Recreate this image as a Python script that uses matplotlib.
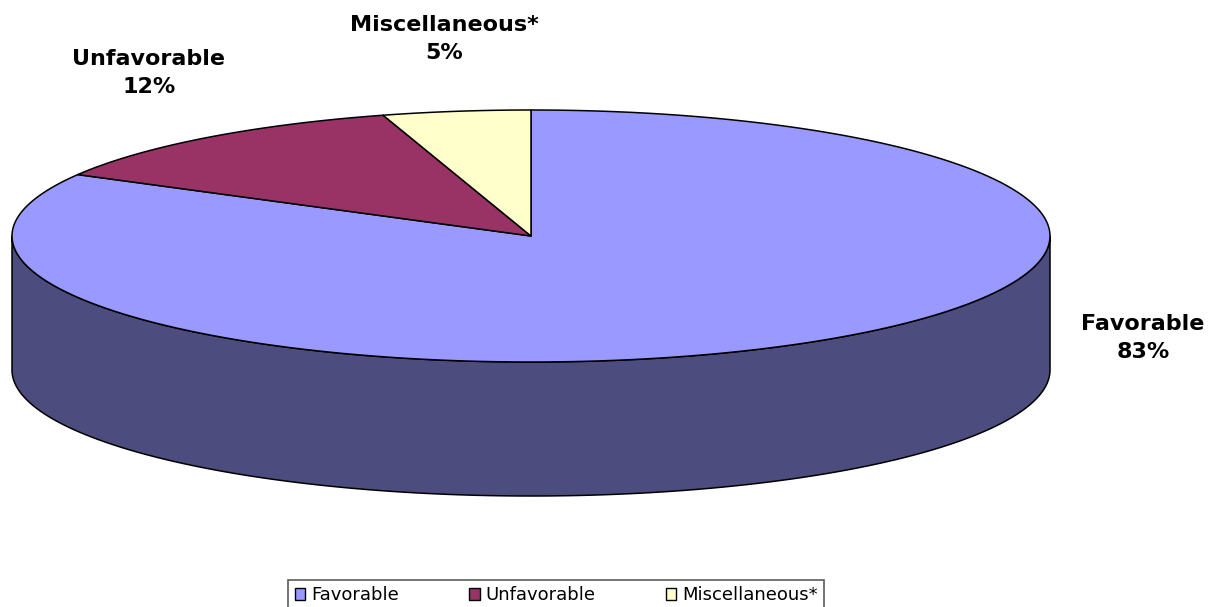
import numpy as np
import matplotlib.pyplot as plt
from matplotlib.patches import Polygon, Patch

categories = ['Favorable', 'Unfavorable', 'Miscellaneous*']
values = [83.1, 12.3, 4.6]
pct_labels = [f'{round(v)}%' for v in values]
top_colors = ['#9999FF', '#993366', '#FFFFCC']
side_colors = ['#4C4C7E', '#4D1A33', '#808066']

W, H = 1228, 607
fig = plt.figure(figsize=(W / 100, H / 100), dpi=100)
ax = fig.add_axes([0, 0, 1, 1])
ax.set_xlim(0, W)
ax.set_ylim(H, 0)
ax.axis('off')

# pie geometry (pixel space)
cx, cy, a, b, depth = 531, 236, 519, 126, 134


def pts(t, dy=0.0):
    return np.column_stack([cx + a * np.cos(t), cy - b * np.sin(t) + dy])


fracs = np.array(values, dtype=float) / sum(values)
bounds = np.pi / 2 - 2 * np.pi * np.concatenate([[0], np.cumsum(fracs)])

# side walls (front half only)
for i in range(len(values)):
    hi, lo = bounds[i], bounds[i + 1]
    for k in range(-2, 3):
        s0, s1 = -np.pi + 2 * np.pi * k, 2 * np.pi * k
        l, h = max(lo, s0), min(hi, s1)
        if h > l:
            t = np.linspace(l, h, 300)
            top = pts(t)
            bot = pts(t[::-1], depth)
            ax.add_patch(Polygon(np.vstack([top, bot]), closed=True,
                                 facecolor=side_colors[i], edgecolor='black',
                                 linewidth=1.1, joinstyle='round'))

# top face wedges
for i in range(len(values)):
    hi, lo = bounds[i], bounds[i + 1]
    t = np.linspace(hi, lo, 400)
    arc = pts(t)
    poly = np.vstack([[cx, cy], arc])
    ax.add_patch(Polygon(poly, closed=True, facecolor=top_colors[i],
                         edgecolor='black', linewidth=1.1, joinstyle='round'))

# data labels
label_font = dict(family=['DejaVu Sans'], fontsize=16,
                  fontweight='bold', ha='center', va='center', linespacing=1.55)
label_pos = [(1143, 338), (149, 73), (444, 39)]
for (x, y), c, p in zip(label_pos, categories, pct_labels):
    ax.text(x, y, f'{c}\n{p}', **label_font)

# legend
handles = [Patch(facecolor=c, edgecolor='black', linewidth=1) for c in top_colors]
leg = fig.legend(handles, categories, loc='upper center',
                 bbox_to_anchor=(556 / W, 1 - 580 / H), ncol=3,
                 frameon=True, fancybox=False, edgecolor='#333333',
                 prop={'family': ['DejaVu Sans'], 'size': 13},
                 handlelength=0.6, handleheight=0.6, handletextpad=0.3,
                 columnspacing=3.9, borderpad=0.35, borderaxespad=0)
leg.get_frame().set_linewidth(1.2)

fig.savefig('out.png', dpi=100, facecolor='white')
